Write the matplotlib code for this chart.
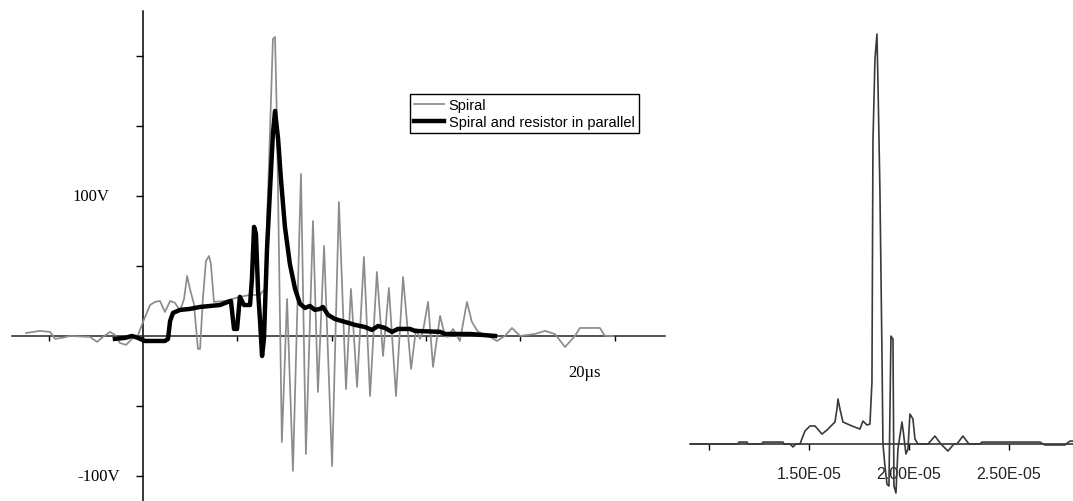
import matplotlib
matplotlib.use('Agg')
import matplotlib.pyplot as plt
import numpy as np

# ---------------- data (left panel: time in µs, voltage in V) ----------------
spiral_t = [-4.96, -4.37, -3.94, -3.73, -3.44, -3.10, -2.25, -1.95, -1.70, -1.40,
            -1.19, -0.98, -0.72, -0.47, -0.21, 0.00, 0.30, 0.51, 0.72, 0.93,
            1.15, 1.36, 1.57, 1.74, 1.87, 1.99, 2.16, 2.33, 2.42, 2.54,
            2.67, 2.80, 2.88, 3.01, 3.48, 4.11, 4.54, 4.96, 5.17, 5.39,
            5.51, 5.60, 5.68, 5.89, 6.11, 6.36, 6.70, 6.91, 7.21, 7.42,
            7.68, 8.02, 8.31, 8.61, 8.82, 9.08, 9.37, 9.63, 9.92, 10.18,
            10.43, 10.73, 11.03, 11.37, 11.58, 11.75, 11.87, 12.09, 12.30, 12.60,
            12.81, 12.93, 13.15, 13.44, 13.74, 13.95, 14.21, 14.72, 15.01, 15.35,
            15.65, 15.99, 16.62, 17.05, 17.47, 17.90, 18.32, 18.53, 19.38, 19.59,
            19.93]
spiral_v = [2.1, 3.6, 2.9, -2.1, -1.4, 0.0, -0.7, -4.3, -0.7, 2.9,
            0.7, -5.0, -6.4, -2.1, 0.7, 10.0, 22.1, 24.3, 25.0, 17.1,
            25.0, 23.6, 17.9, 26.4, 42.9, 33.6, 22.9, -9.3, -9.3, 26.4,
            53.6, 57.1, 51.4, 24.3, 25.0, 27.9, 29.3, 29.3, 33.6, 147.9,
            212.1, 213.6, 155.0, -75.7, 26.4, -96.4, 115.7, -84.3, 82.1, -40.0,
            64.3, -92.9, 95.7, -37.9, 33.6, -36.4, 56.4, -42.9, 45.7, -14.3,
            34.3, -42.9, 42.1, -23.6, 5.0, -2.1, 2.9, 24.3, -22.1, 14.3,
            0.0, -0.7, 5.0, -3.6, 24.3, 10.0, 2.9, -0.7, -3.6, 0.0,
            5.7, 0.0, 1.4, 3.6, 1.4, -7.9, 0.0, 5.7, 5.7, 0.0,
            0.0]

parallel_t = [-1.19, -0.76, -0.47, -0.21, 0.08, 0.93, 1.06, 1.15, 1.27, 1.57,
              1.99, 2.42, 2.84, 3.27, 3.60, 3.73, 3.86, 3.99, 4.11, 4.28,
              4.54, 4.62, 4.71, 4.79, 4.88, 4.96, 5.05, 5.13, 5.26, 5.39,
              5.51, 5.60, 5.73, 5.85, 6.02, 6.23, 6.45, 6.66, 6.87, 7.08,
              7.29, 7.51, 7.63, 7.85, 8.14, 8.57, 8.99, 9.41, 9.71, 9.97,
              10.26, 10.56, 10.81, 11.32, 11.54, 12.60, 12.81, 13.87, 14.93]
parallel_v = [-2.1, -1.4, 0.0, -1.4, -3.6, -3.6, -2.1, 10.7, 16.4, 18.6,
              19.3, 20.7, 21.4, 22.1, 24.3, 25.0, 5.0, 5.0, 27.9, 22.1,
              22.1, 40.7, 77.9, 72.9, 32.1, 12.1, -14.3, -2.1, 62.1, 105.0,
              144.3, 160.7, 140.7, 112.1, 77.9, 51.4, 33.6, 22.9, 20.0, 21.4,
              18.6, 19.3, 20.7, 15.0, 12.1, 10.0, 7.9, 6.4, 4.3, 7.1,
              5.7, 2.9, 5.0, 5.0, 3.6, 2.9, 1.4, 1.4, 0.0]

# ---------------- data (right panel: time in µs, arbitrary amplitude) ----------------
zoom_t_us = [9.05, 11.45, 11.50, 11.90, 11.95, 12.65, 12.70, 13.70, 13.75, 14.05,
             14.20, 14.35, 14.55, 14.80, 15.05, 15.30, 15.65, 15.90, 16.30, 16.40,
             16.45, 16.55, 16.70, 17.15, 17.55, 17.70, 17.90, 18.05, 18.15, 18.20,
             18.30, 18.40, 18.45, 18.55, 18.65, 18.70, 18.80, 18.90, 19.00, 19.10,
             19.20, 19.25, 19.35, 19.45, 19.65, 19.70, 19.85, 19.95, 20.05, 20.20,
             20.30, 20.45, 20.95, 21.30, 21.60, 21.95, 22.25, 22.40, 22.70, 23.00,
             23.55, 23.65, 26.55, 26.80, 27.80, 28.05, 28.20]
zoom_v = [0.0, 0.0, 1.4, 1.4, 0.0, 0.0, 1.4, 1.4, 0.0, 0.0,
          -2.1, 0.0, 0.0, 9.3, 12.9, 12.9, 7.1, 10.0, 15.7, 25.0,
          32.1, 25.0, 15.7, 12.9, 10.7, 16.4, 13.6, 14.3, 44.3, 215.7,
          275.0, 292.9, 258.6, 180.0, 65.7, 0.0, -15.7, -28.6, -30.0, 77.1,
          75.0, -30.0, -35.0, -3.6, 15.7, 10.7, -7.1, -3.6, 21.4, 17.9,
          3.6, 0.0, 0.0, 5.7, 0.0, -5.0, 0.0, 0.0, 5.7, 0.0,
          0.0, 1.4, 1.4, -0.7, -0.7, 2.1, 2.1]

left_xticks = [-4, 0, 4, 8, 12, 16, 20]
left_yticks = [-100, -50, 50, 100, 150, 200]
right_xticks = [1.0e-5, 1.5e-5, 2.0e-5, 2.5e-5]
right_xticklabels = ['', '1.50E-05', '2.00E-05', '2.50E-05']

W, H = 1073, 502
fig = plt.figure(figsize=(W / 100, H / 100), dpi=100)

# ---------------- left panel ----------------
ax = fig.add_axes([12 / W, 0, 653 / W, 490 / H])
ax.set_xlim(-5.556, 22.14)
ax.set_ylim(-117.9, 232.1)
ax.patch.set_alpha(0)
for s in ('top', 'right'):
    ax.spines[s].set_visible(False)
ax.spines['left'].set_position(('data', 0))
ax.spines['bottom'].set_position(('data', 0))
ax.spines['left'].set_linewidth(1.1)
ax.spines['bottom'].set_linewidth(1.1)
ax.spines['bottom'].set_color('#222222')
ax.set_xticks(left_xticks)
ax.set_yticks(left_yticks)
ax.tick_params(axis='y', direction='out', length=5, width=1, labelleft=False)
ax.tick_params(axis='x', direction='out', length=3.5, width=1, labelbottom=False)

ax.plot(spiral_t, spiral_v, color='#8c8c8c', lw=1.25, label='Spiral', zorder=3)
ax.plot(parallel_t, parallel_v, color='black', lw=3.2, label='Spiral and resistor in parallel',
        zorder=4)

serif = dict(family='Liberation Serif', fontsize=12, color='black')
ax.text(-3.01, 100, '100V', ha='left', va='center', **serif)
ax.text(-2.80, -100, '-100V', ha='left', va='center', **serif)
ax.text(18.74, -25.7, '20µs', ha='center', va='center', **serif)

leg = ax.legend(loc='upper left', bbox_to_anchor=(410 / W, 1 - 95 / H),
                bbox_transform=fig.transFigure, frameon=True, fancybox=False,
                edgecolor='black', framealpha=1, borderaxespad=0,
                prop=dict(family='Liberation Sans', size=10.5),
                handlelength=2.05, handletextpad=0.3, labelspacing=0.16,
                borderpad=0.3)
leg.get_frame().set_linewidth(1.0)

# ---------------- right panel ----------------
ax2 = fig.add_axes([690 / W, 0, 383 / W, 1])
ax2.set_xlim(0.905e-5, 2.8205e-5)
ax2.set_ylim(-40.7, 317.9)
ax2.patch.set_alpha(0)
for s in ('top', 'right', 'left'):
    ax2.spines[s].set_visible(False)
ax2.spines['bottom'].set_position(('data', 0))
ax2.spines['bottom'].set_color('#222222')
ax2.spines['bottom'].set_linewidth(1.1)
ax2.set_yticks([])
ax2.set_xticks(right_xticks)
ax2.set_xticklabels(right_xticklabels, family='Liberation Sans', fontsize=11.5, color='#222222')
ax2.tick_params(axis='x', direction='out', length=4, width=1, pad=12)

ax2.plot(np.array(zoom_t_us) * 1e-6, zoom_v, color='#3a3a3a', lw=1.2, zorder=3)

fig.savefig('out.png', dpi=100)
